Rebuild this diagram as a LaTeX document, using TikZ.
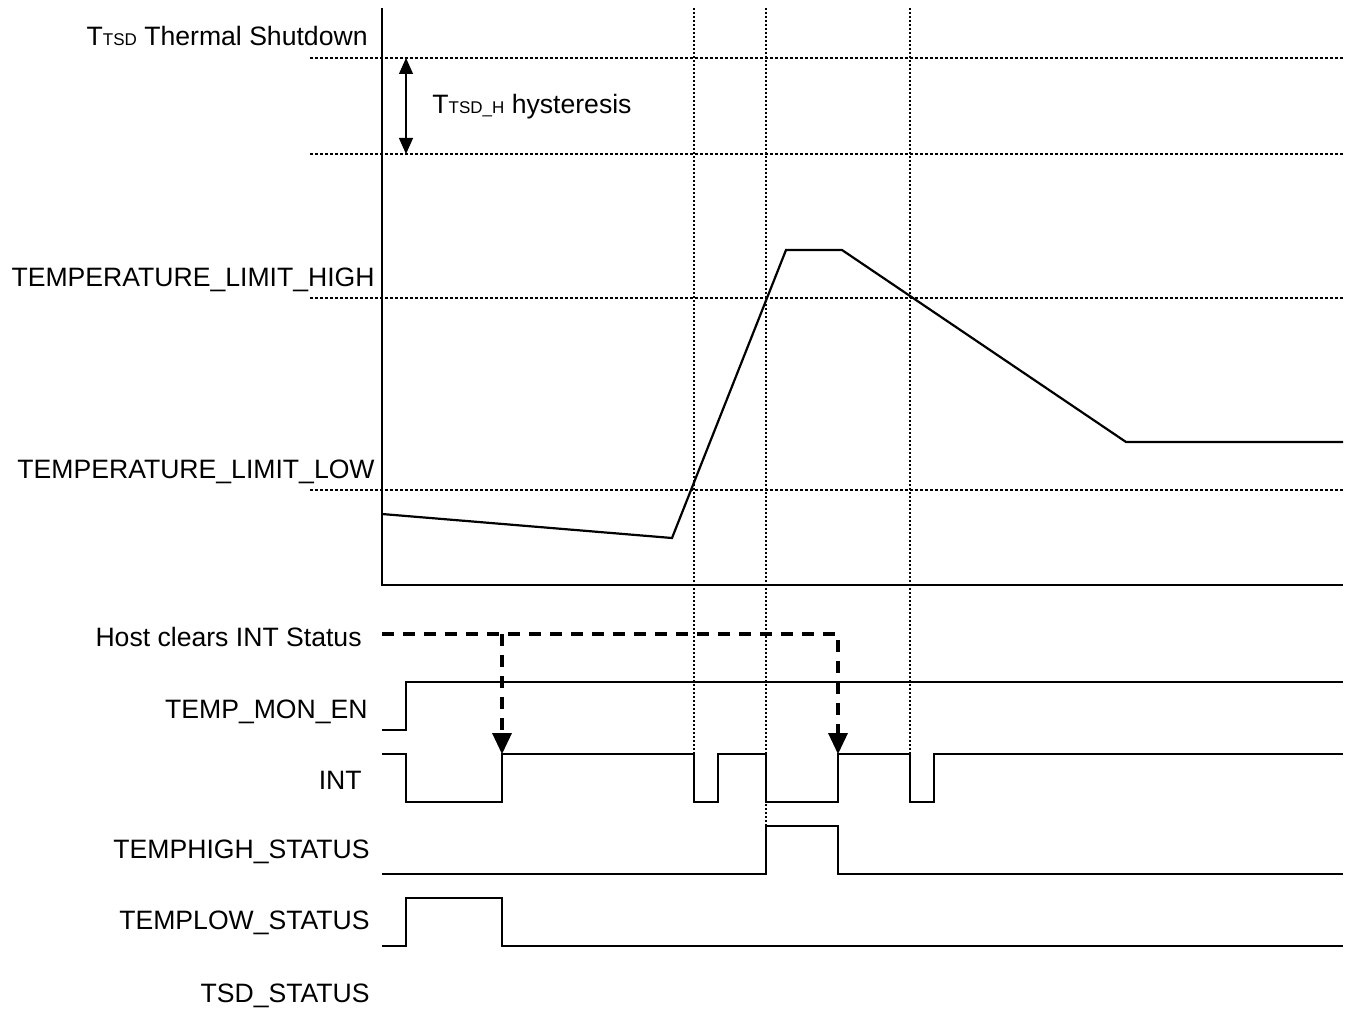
\documentclass[tikz,border=0pt]{standalone}
\usepackage{fontspec}
\setmainfont{Liberation Sans}
\usetikzlibrary{arrows.meta, calc}
\tikzset{
    lbl/.style={anchor=base east, inner sep=0pt, font=\fontsize{13.3}{16}\selectfont},
    sig/.style={line width=1.1pt, line join=miter},
    guide/.style={line width=0.8pt, dash pattern=on 1.5pt off 1pt},
    marker/.style={line width=0.6pt, dash pattern=on 1pt off 1pt},
    hostline/.style={line width=2.2pt, dash pattern=on 6pt off 4.5pt},
}
\newcommand{\subtxt}[1]{{\fontsize{8.5}{10}\selectfont #1}}
\begin{document}
\begin{tikzpicture}[x=0.5pt, y=-0.5pt]
    \useasboundingbox (0,0) rectangle (1347,1016);
    % Threshold levels
    \foreach \y in {58, 154, 298, 490} {
        \draw[guide] (310,\y) -- (1343,\y);
    }
    % Event markers
    \draw[marker] (694,8) -- (694,754);
    \draw[marker] (766,8) -- (766,826);
    \draw[marker] (910,8) -- (910,754);
    % Axes
    \draw[sig] (382,8) -- (382,585) -- (1343,585);
    % Temperature curve
    \draw[sig] (382,514) -- (672,538) -- (786,250) -- (842,250) -- (1126,442) -- (1343,442);
    % Hysteresis
    \draw[line width=0.6pt, {Triangle[length=8pt,width=7pt]}-{Triangle[length=8pt,width=7pt]}] (406,58) -- (406,154);
    \node[anchor=base west, inner sep=0pt, font=\fontsize{13.3}{16}\selectfont] (hyst) at (432,114) {T\subtxt{TSD\_H} hysteresis};
    % Labels
    \node[lbl] (tsd) at (368,46) {T\subtxt{TSD} Thermal Shutdown};
    \node[lbl] (high) at (375,286) {TEMPERATURE\_LIMIT\_HIGH};
    \node[lbl] (low) at (375,478) {TEMPERATURE\_LIMIT\_LOW};
    \node[lbl] (host) at (362,646) {Host clears INT Status};
    \node[lbl] (monen) at (368,718) {TEMP\_MON\_EN};
    \node[lbl] (int) at (362,789) {INT};
    \node[lbl] (thigh) at (370,858) {TEMPHIGH\_STATUS};
    \node[lbl] (tlow) at (370,929) {TEMPLOW\_STATUS};
    \node[lbl] (tsdst) at (370,1002) {TSD\_STATUS};
    % Host clears INT Status
    \coordinate (hA) at (382,634);
    \coordinate (hB) at (502,634);
    \coordinate (hC) at (838,634);
    \coordinate (iB) at (502,754);
    \coordinate (iC) at (838,754);
    \draw[hostline] (hA) -- (hC) -- ($(iC)+(0,-18)$);
    \draw[hostline] (hB) -- ($(iB)+(0,-18)$);
    \fill (iB) -- ++(-10,-21) -- ++(20,0) -- cycle;
    \fill (iC) -- ++(-10,-21) -- ++(20,0) -- cycle;
    % TEMP_MON_EN
    \draw[sig] (382,730) -- (406,730) -- (406,682) -- (1343,682);
    % INT
    \draw[sig] (382,754) -- (406,754) -- (406,802) -- (502,802) -- (502,754) -- (694,754) -- (694,802) -- (718,802) -- (718,754)
        -- (766,754) -- (766,802) -- (838,802) -- (838,754) -- (910,754) -- (910,802) -- (934,802) -- (934,754) -- (1343,754);
    % TEMPHIGH_STATUS
    \draw[sig] (382,874) -- (766,874) -- (766,826) -- (838,826) -- (838,874) -- (1343,874);
    % TEMPLOW_STATUS
    \draw[sig] (382,946) -- (406,946) -- (406,898) -- (502,898) -- (502,946) -- (1343,946);
\end{tikzpicture}
\end{document}
